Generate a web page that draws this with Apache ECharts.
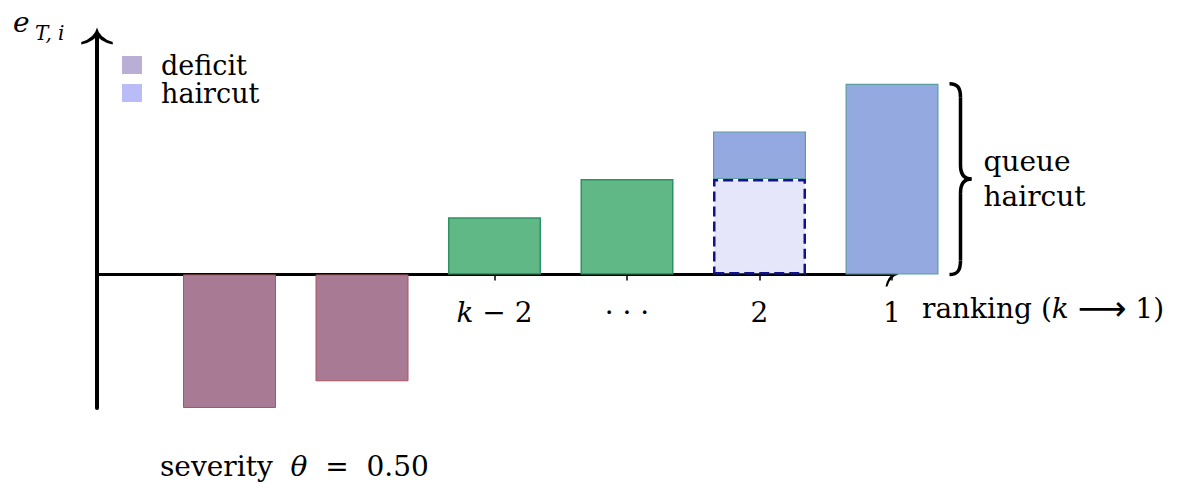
<!DOCTYPE html>
<html>
<head>
<meta charset="utf-8">
<script src="https://cdn.jsdelivr.net/npm/echarts@6/dist/echarts.min.js"></script>
<style>html,body{margin:0;padding:0;background:#fff}#c{width:1200px;height:498px}</style>
</head>
<body>
<div id="c"></div>
<script>
// ---- data ----
const positions = ['0', '1', '2', '3', '4', '5', '6'];
const tickLabels = ['', '', '', 'k − 2', '· · ·', '2', '1'];
const deficit  = [null, -0.7, -0.56, null, null, null, null];
const surplus  = [null, null, null, 0.3, 0.5, null, null];
const retained = [null, null, null, null, null, 0.5, null];
const haircut  = [null, null, null, null, null, 0.25, 1.0];
const legendNames = ['deficit', 'haircut'];

const FONT = 'DejaVu Serif';
const BAR_W = 93;
const Y_MIN = -0.7, Y_MAX = 1.25;
const toData = arr => arr.map(v => (v == null ? '-' : v));
const arrowPath = 'path://M50,0 Q58,34 100,46 L100,54 Q56,44 50,22 Q44,44 0,54 L0,46 Q42,34 50,0 Z';
const shownTick = idx => tickLabels[idx] !== '';

const chart = echarts.init(document.getElementById('c'), null, { renderer: 'svg' });

const option = {
  animation: false,
  backgroundColor: '#fff',
  grid: { left: 97, right: 308, top: 36, bottom: 90 },
  legend: {
    orient: 'vertical', left: 117, top: 46, itemWidth: 20, itemHeight: 18, itemGap: 0,
    icon: 'rect',
    textStyle: { fontFamily: FONT, fontSize: 27, color: '#000', lineHeight: 28, padding: [0, 0, 0, 14] },
    data: [
      { name: legendNames[0], itemStyle: { color: '#b9aed4', borderWidth: 0 } },
      { name: legendNames[1], itemStyle: { color: '#babcf8', borderWidth: 0 } }
    ]
  },
  xAxis: {
    type: 'category', data: positions, boundaryGap: false,
    splitLine: { show: false },
    axisLine: { show: true, onZero: true, lineStyle: { color: '#000', width: 3 },
      symbol: ['none', arrowPath], symbolSize: [24, 14] },
    axisTick: { show: true, interval: (i) => shownTick(i), length: 6, lineStyle: { color: '#000', width: 1.5 } },
    axisLabel: {
      interval: (i) => shownTick(i), margin: 24, color: '#000', fontFamily: FONT, fontSize: 28,
      formatter: (v, i) => tickLabels[i].replace('k', '{i|k}'),
      rich: { i: { fontFamily: FONT, fontSize: 28, fontStyle: 'italic', color: '#000' } }
    },
    name: 'ranking ({i|k} {a|⟶} 1)', nameLocation: 'end', nameGap: 30,
    nameTextStyle: { fontFamily: FONT, fontSize: 28, color: '#000', align: 'left', verticalAlign: 'middle',
      padding: [68, 0, 0, 0],
      rich: { i: { fontFamily: FONT, fontSize: 28, fontStyle: 'italic', color: '#000' },
              a: { fontFamily: 'DejaVu Sans', fontSize: 34, color: '#000' } } }
  },
  yAxis: {
    type: 'value', min: Y_MIN, max: Y_MAX,
    splitLine: { show: false }, axisTick: { show: false }, axisLabel: { show: false },
    axisLine: { show: true, onZero: true, lineStyle: { color: '#000', width: 4 },
      symbol: ['none', arrowPath], symbolSize: [33, 17] }
  },
  series: [
    { name: 'deficit', type: 'bar', stack: 'all', barWidth: BAR_W, data: toData(deficit),
      itemStyle: { color: '#a87a93', borderColor: '#a9565e', borderWidth: 1 } },
    { name: 'surplus', type: 'bar', stack: 'all', barWidth: BAR_W, data: toData(surplus),
      itemStyle: { color: '#60b886', borderColor: '#2f9262', borderWidth: 1.5 } },
    { name: 'retained', type: 'bar', stack: 'all', barWidth: BAR_W, data: toData(retained),
      itemStyle: { color: '#e6e6fa', borderColor: '#12128c', borderWidth: 2.5, borderType: [10, 5] } },
    { name: 'haircut', type: 'bar', stack: 'all', barWidth: BAR_W, data: toData(haircut),
      itemStyle: { color: '#94a9e0', borderColor: '#5a9fa2', borderWidth: 1.2 } }
  ]
};
chart.setOption(option);

// annotations anchored to the axes
const last = positions.length - 1;
const top6 = chart.convertToPixel({ xAxisIndex: 0, yAxisIndex: 0 }, [last, haircut[last]]);
const zero = chart.convertToPixel({ xAxisIndex: 0, yAxisIndex: 0 }, [last, 0]);
const x0 = top6[0] + BAR_W / 2 + 11;
const yT = top6[1], yB = zero[1], ym = (yT + yB) / 2;
const S = { stroke: '#000', lineWidth: 3.5, fill: null };
const yBottom = chart.convertToPixel({ yAxisIndex: 0 }, Y_MIN);
const axisX = chart.convertToPixel({ xAxisIndex: 0 }, 0);

chart.setOption({
  xAxis: { axisLabel: { margin: 24 - (yBottom - yB) } },
  graphic: [
    { type: 'bezierCurve', shape: { x1: x0, y1: yT, cpx1: x0 + 8, cpy1: yT, cpx2: x0 + 11, cpy2: yT + 4, x2: x0 + 11, y2: yT + 14 }, style: S },
    { type: 'line', shape: { x1: x0 + 11, y1: yT + 14, x2: x0 + 11, y2: ym - 14 }, style: S },
    { type: 'bezierCurve', shape: { x1: x0 + 11, y1: ym - 14, cpx1: x0 + 11, cpy1: ym - 4, cpx2: x0 + 15, cpy2: ym, x2: x0 + 22, y2: ym }, style: S },
    { type: 'bezierCurve', shape: { x1: x0 + 22, y1: ym, cpx1: x0 + 15, cpy1: ym, cpx2: x0 + 11, cpy2: ym + 4, x2: x0 + 11, y2: ym + 14 }, style: S },
    { type: 'line', shape: { x1: x0 + 11, y1: ym + 14, x2: x0 + 11, y2: yB - 14 }, style: S },
    { type: 'bezierCurve', shape: { x1: x0 + 11, y1: yB - 14, cpx1: x0 + 11, cpy1: yB - 4, cpx2: x0 + 8, cpy2: yB, x2: x0, y2: yB }, style: S },
    { type: 'text', x: x0 + 34, y: ym, style: { text: 'queue\nhaircut', fontFamily: FONT, fontSize: 28,
      lineHeight: 35, fill: '#000', align: 'left', verticalAlign: 'middle' } },
    { type: 'text', x: axisX - 84, y: 8, style: { text: 'e', fontFamily: FONT, fontSize: 28,
      fontStyle: 'italic', fill: '#000', align: 'left', verticalAlign: 'top' } },
    { type: 'text', x: axisX - 62, y: 23, style: { text: 'T, i', fontFamily: FONT, fontSize: 20,
      fontStyle: 'italic', fill: '#000', align: 'left', verticalAlign: 'top' } },
    { type: 'text', x: axisX + 63, y: yBottom + 58, style: { text: 'severity  {i|θ}  =  0.50', fontFamily: FONT,
      fontSize: 28, fill: '#000', align: 'left', verticalAlign: 'middle',
      rich: { i: { fontFamily: FONT, fontSize: 28, fontStyle: 'italic', fill: '#000' } } } }
  ]
});
</script>
</body>
</html>
